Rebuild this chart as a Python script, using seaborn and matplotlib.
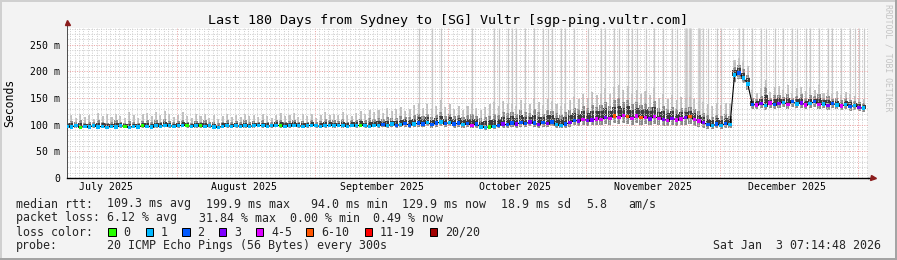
import numpy as np
import pandas as pd
import matplotlib
matplotlib.use("Agg")
import matplotlib.pyplot as plt
import matplotlib.dates as mdates
from matplotlib.ticker import MultipleLocator, FixedLocator, FixedFormatter, NullFormatter
from matplotlib.transforms import blended_transform_factory
from matplotlib.patches import Rectangle
from matplotlib.lines import Line2D
import seaborn as sns

# ---------------- data ----------------
TITLE = "Last 180 Days from Sydney to [SG] Vultr [sgp-ping.vultr.com]"
START = "2025-07-07 07:14:48"
END = "2026-01-03 07:14:48"

# daily median RTT (ms)
median_ms = [
    97, 96, 98, 95, 97, 96, 98, 96, 97, 95,
    97, 96, 98, 97, 95, 97, 96, 98, 97, 96,
    98, 97, 99, 98, 97, 98, 99, 98, 97, 98,
    98, 97, 98, 96, 95, 97, 98, 97, 98, 97,
    98, 97, 98, 99, 98, 97, 98, 99, 98, 97,
    98, 99, 98, 97, 98, 99, 98, 97, 98, 99,
    98, 99, 98, 97, 99, 98, 99, 98, 97, 99,
    99, 100, 98, 101, 99, 100, 102, 99, 101, 103,
    101, 104, 100, 103, 105, 102, 104, 101, 103, 100,
    102, 99, 101, 96, 95, 96, 97, 99, 101, 100,
    103, 101, 104, 102, 105, 103, 100, 104, 102, 105,
    100, 99, 101, 104, 108, 107, 110, 108, 109, 111,
    110, 113, 112, 116, 114, 117, 115, 112, 116, 113,
    114, 111, 115, 112, 110, 108, 112, 109, 111, 113,
    115, 110, 107, 104, 100, 98, 101, 99, 102, 100,
    193, 197, 188, 176, 138, 137, 140, 136, 141, 138,
    140, 142, 138, 143, 139, 141, 137, 140, 143, 138,
    139, 136, 140, 137, 135, 138, 134, 136, 132, 131,
]

# daily loss bucket (0 = "0", 1 = "1", 2 = "2", 3 = "3", 4 = "4-5", 5 = "6-10", 6 = "11-19", 7 = "20/20")
loss_level = [
    1, 1, 1, 0, 1, 1, 1, 1, 1, 1,
    1, 1, 1, 0, 1, 1, 1, 0, 1, 1,
    1, 1, 1, 1, 1, 1, 1, 0, 1, 1,
    0, 1, 1, 1, 1, 1, 1, 1, 1, 1,
    1, 1, 1, 1, 1, 1, 1, 1, 0, 1,
    1, 1, 1, 1, 1, 1, 1, 1, 1, 1,
    1, 1, 1, 1, 1, 1, 0, 1, 1, 1,
    1, 2, 1, 1, 2, 1, 2, 2, 1, 2,
    2, 1, 2, 2, 1, 2, 1, 2, 2, 1,
    2, 4, 2, 1, 1, 0, 1, 2, 3, 2,
    2, 3, 2, 2, 3, 2, 3, 2, 3, 2,
    1, 1, 2, 3, 2, 3, 4, 3, 3, 4,
    4, 3, 4, 5, 4, 4, 5, 4, 4, 5,
    4, 3, 4, 4, 3, 4, 3, 4, 4, 3,
    5, 4, 4, 3, 2, 1, 2, 1, 2, 1,
    1, 2, 1, 1, 2, 4, 3, 1, 4, 2,
    3, 1, 4, 2, 1, 3, 4, 1, 2, 4,
    1, 3, 2, 1, 4, 1, 2, 1, 3, 1,
]

# smoke: lowest ping, 75th percentile, highest ping (ms)
smoke_min = [
    93, 92, 94, 91, 93, 92, 94, 92, 93, 91,
    93, 92, 94, 93, 91, 93, 92, 94, 93, 92,
    94, 93, 95, 94, 93, 94, 95, 94, 93, 94,
    94, 93, 94, 92, 91, 93, 94, 93, 94, 93,
    94, 93, 94, 95, 94, 93, 94, 95, 94, 93,
    94, 95, 94, 93, 94, 95, 94, 93, 94, 95,
    94, 95, 94, 93, 95, 94, 95, 94, 93, 95,
    94, 95, 93, 95, 94, 95, 96, 94, 95, 96,
    95, 97, 94, 96, 97, 95, 97, 94, 96, 94,
    95, 93, 94, 91, 90, 91, 92, 93, 94, 94,
    96, 94, 96, 95, 97, 95, 93, 96, 95, 97,
    94, 93, 94, 96, 99, 98, 100, 98, 99, 100,
    99, 101, 100, 103, 101, 104, 102, 100, 103, 100,
    101, 99, 102, 100, 98, 97, 100, 97, 99, 100,
    101, 98, 96, 94, 92, 91, 93, 92, 94, 93,
    180, 186, 178, 166, 130, 129, 131, 128, 132, 130,
    131, 133, 130, 134, 131, 132, 129, 131, 134, 130,
    131, 128, 131, 129, 127, 130, 126, 128, 125, 124,
]
smoke_p75 = [
    104, 107, 105, 108, 104, 106, 105, 108, 106, 104,
    105, 108, 106, 104, 107, 105, 104, 107, 108, 105,
    108, 106, 110, 107, 105, 107, 109, 106, 104, 107,
    106, 108, 105, 106, 103, 106, 108, 105, 107, 105,
    108, 105, 107, 106, 108, 106, 105, 108, 109, 106,
    107, 109, 106, 107, 106, 109, 105, 107, 110, 108,
    108, 107, 110, 106, 108, 109, 111, 108, 112, 110,
    112, 110, 114, 112, 113, 116, 115, 114, 118, 121,
    116, 120, 114, 118, 124, 117, 121, 116, 119, 115,
    118, 120, 116, 112, 114, 117, 120, 119, 124, 122,
    124, 121, 127, 123, 122, 129, 124, 121, 128, 126,
    122, 118, 123, 127, 131, 129, 135, 131, 137, 134,
    137, 143, 136, 146, 150, 142, 147, 138, 143, 137,
    140, 134, 144, 132, 136, 130, 134, 129, 132, 131,
    134, 129, 126, 122, 118, 115, 119, 116, 120, 117,
    208, 212, 204, 194, 150, 148, 154, 170, 151, 155,
    156, 152, 158, 150, 153, 157, 150, 155, 153, 158,
    150, 153, 149, 151, 146, 150, 147, 145, 142, 140,
]
smoke_max = [
    110, 118, 112, 121, 115, 119, 110, 122, 116, 120,
    114, 121, 117, 112, 123, 118, 113, 120, 122, 116,
    124, 118, 126, 121, 115, 119, 123, 117, 112, 120,
    116, 121, 113, 118, 111, 117, 120, 114, 119, 115,
    121, 116, 119, 114, 120, 117, 113, 119, 122, 116,
    118, 122, 115, 120, 117, 121, 113, 119, 123, 118,
    121, 118, 124, 119, 116, 122, 126, 120, 128, 123,
    127, 122, 131, 125, 129, 134, 126, 130, 137, 140,
    132, 138, 129, 135, 146, 133, 139, 130, 136, 128,
    135, 140, 131, 128, 134, 138, 142, 136, 145, 139,
    141, 136, 147, 140, 138, 150, 143, 137, 148, 145,
    139, 135, 141, 146, 152, 148, 158, 150, 162, 155,
    160, 168, 158, 170, 175, 165, 172, 160, 166, 158,
    163, 155, 168, 150, 158, 148, 155, 147, 152, 150,
    154, 148, 145, 142, 138, 136, 140, 137, 141, 138,
    222, 225, 218, 210, 165, 160, 168, 184, 162, 170,
    172, 165, 175, 160, 168, 171, 163, 170, 165, 174,
    160, 166, 158, 163, 155, 161, 157, 154, 150, 148,
]
# days with a ping reaching the top of the graph
tall_spike_days = [79, 82, 84, 91, 96, 97, 99, 100, 101, 103, 105, 107, 108, 109,
                   111, 112, 114, 117, 120, 121, 123, 124, 126, 127, 128, 130, 132,
                   134, 136, 137, 139, 140, 142, 143, 144, 146, 147, 151, 152, 154,
                   156, 157, 159, 161, 163, 164, 166, 167, 169, 171, 172, 174, 176,
                   177, 178, 179]
wide_spike_days = [139, 140, 142]

month_labels = ["July 2025", "August 2025", "September 2025", "October 2025",
                "November 2025", "December 2025"]
month_label_dates = ["2025-07-16", "2025-08-16", "2025-09-16", "2025-10-16",
                     "2025-11-16", "2025-12-16"]
ytick_values = [0, 50, 100, 150, 200, 250]
ytick_labels = ["0", "50 m", "100 m", "150 m", "200 m", "250 m"]
Y_MAX = 282

loss_labels = ["0", "1", "2", "3", "4-5", "6-10", "11-19", "20/20"]
loss_colors = ["#26ff00", "#00b8ff", "#0059ff", "#7e00ff", "#dd00ff",
               "#ff5500", "#ff0000", "#a10000"]

stats_line1 = [("median rtt:", 16), ("109.3 ms avg", 107.3), ("199.9 ms max", 205.5),
               ("94.0 ms min", 310.8), ("129.9 ms now", 402.1), ("18.9 ms sd", 500.5),
               ("5.8", 586.0), ("am/s", 628.3)]
stats_line2 = [("packet loss:", 16), ("6.12 % avg", 107.3), ("31.84 % max", 198.5),
               ("0.00 % min", 290.0), ("0.49 % now", 372.5)]
probe_text = "20 ICMP Echo Pings (56 Bytes) every 300s"
date_text = "Sat Jan  3 07:14:48 2026"
watermark = "RRDTOOL / TOBI OETIKER"

# ---------------- figure ----------------
W, H = 897, 260
sns.set_theme(style="white")
plt.rcParams["font.family"] = ["DejaVu Sans Mono"]

def fx(px):
    return px / W

def fy(py):
    return 1 - py / H

fig = plt.figure(figsize=(W / 100, H / 100), dpi=100, facecolor="#f3f3f3")
ax_l, ax_r, ax_t, ax_b = 67, 868, 27.7, 178
ax = fig.add_axes([fx(ax_l), fy(ax_b), (ax_r - ax_l) / W, (ax_b - ax_t) / H])
ax.set_facecolor("white")

start = pd.Timestamp(START)
end = pd.Timestamp(END)
n = len(median_ms)
df = pd.DataFrame({
    "t": start + pd.to_timedelta(np.arange(n), unit="D"),
    "median": median_ms,
    "loss": loss_level,
    "smin": smoke_min,
    "p75": smoke_p75,
    "smax": smoke_max,
})
df["xn"] = mdates.date2num(df["t"])

# tall light spikes
tall = df.iloc[tall_spike_days]
ax.vlines(tall["xn"], tall["median"], Y_MAX, color="#c8c8c8", lw=0.9, zorder=0.8)
wide = df.iloc[wide_spike_days]
ax.vlines(wide["xn"], wide["median"], Y_MAX, color="#d6d6d6", lw=2.4, zorder=0.7)

# smoke layers
ax.bar(df["xn"], df["smax"] - df["smin"], bottom=df["smin"], width=0.45,
       color="#c0c0c0", linewidth=0, zorder=1.0)
ax.bar(df["xn"], df["p75"] - df["smin"], bottom=df["smin"], width=0.7,
       color="#8c8c8c", linewidth=0, zorder=1.05)
core_top = df["median"] + (df["p75"] - df["median"]) * 0.6
ax.bar(df["xn"], core_top - (df["median"] - 2), bottom=df["median"] - 2, width=0.9,
       color="#3c3c3c", linewidth=0, zorder=1.1)

# median line and loss colours
sns.lineplot(data=df, x="xn", y="median", color="black", lw=0.8, ax=ax,
             zorder=2, sort=False)
pal = {i: c for i, c in enumerate(loss_colors)}
sns.scatterplot(data=df, x="xn", y="median", hue="loss", palette=pal, marker="s",
                s=6, linewidth=0, legend=False, ax=ax, zorder=3)

# axes, grid
ax.set_xlim(mdates.date2num(start), mdates.date2num(end))
ax.set_ylim(0, Y_MAX)
ax.set_xlabel("")
ax.set_ylabel("")
ax.xaxis.set_major_locator(mdates.MonthLocator())
ax.xaxis.set_minor_locator(mdates.DayLocator())
ax.xaxis.set_major_formatter(NullFormatter())
ax.xaxis.set_minor_formatter(NullFormatter())
ax.yaxis.set_major_locator(FixedLocator(ytick_values))
ax.yaxis.set_major_formatter(FixedFormatter(ytick_labels))
ax.yaxis.set_minor_locator(MultipleLocator(10))
ax.set_axisbelow("line")
ax.grid(which="minor", color="#cfcfcf", linestyle=(0, (1, 1.4)), lw=0.72)
ax.grid(which="major", color="#eba3a3", linestyle=(0, (1, 1.4)), lw=0.72)

for s in ("top", "right"):
    ax.spines[s].set_visible(False)
ax.spines["left"].set_color("#505050")
ax.spines["left"].set_linewidth(0.72)
ax.spines["bottom"].set_color("black")
ax.spines["bottom"].set_linewidth(1.0)

ax.tick_params(axis="y", which="major", direction="out", length=3, width=0.6,
               color="#505050", labelsize=7.1, pad=2, labelcolor="black")
ax.tick_params(axis="y", which="minor", direction="out", length=1.5, width=0.5,
               color="#808080")
ax.tick_params(axis="x", which="major", direction="out", length=2.5, width=0.6,
               color="#505050")
ax.tick_params(axis="x", which="minor", direction="out", length=1.2, width=0.5,
               color="#909090")

# month labels
btr = blended_transform_factory(ax.transData, ax.transAxes)
lab_y = -(190.5 - ax_b) / (ax_b - ax_t)
for lab, d in zip(month_labels, month_label_dates):
    ax.text(mdates.date2num(pd.Timestamp(d)), lab_y, lab, transform=btr,
            ha="center", va="baseline", fontsize=7.1, color="black")

# axis arrows
ax.add_line(Line2D([0, 0], [1, 1 + 4.5 / (ax_b - ax_t)], transform=ax.transAxes,
                   color="#505050", lw=0.72, clip_on=False))
ax.plot([0], [1 + 6.0 / (ax_b - ax_t)], marker="^", markersize=3.6, color="#8b1c1c",
        transform=ax.transAxes, clip_on=False, zorder=5)
ax.add_line(Line2D([1, 1 + 3.0 / (ax_r - ax_l)], [0, 0], transform=ax.transAxes,
                   color="black", lw=1.0, clip_on=False))
ax.plot([1 + 4.5 / (ax_r - ax_l)], [0], marker=">", markersize=3.6, color="#8b1c1c",
        transform=ax.transAxes, clip_on=False, zorder=5)

# title and labels
fig.text(fx(448), fy(24), TITLE, ha="center", va="baseline", fontsize=9.6, color="black")
fig.text(fx(10), fy(102.5), "Seconds", ha="center", va="center", rotation=90,
         fontsize=8.3, color="black")
fig.text(fx(888), fy(4), watermark, ha="center", va="top", rotation=270,
         fontsize=5.85, color="#c4c4c4")

# legend / stats lines
LEG_FS = 8.4
base = [207.5, 221.5, 235.5, 249.3]
for txt, x in stats_line1:
    fig.text(fx(x), fy(base[0]), txt, ha="left", va="baseline", fontsize=LEG_FS)
for txt, x in stats_line2:
    fig.text(fx(x), fy(base[1]), txt, ha="left", va="baseline", fontsize=LEG_FS)
fig.text(fx(16), fy(base[2]), "loss color:", ha="left", va="baseline", fontsize=LEG_FS)
box_x = [108.3, 145.7, 182.3, 219.0, 256.0, 306.0, 365.0, 430.0]
for bx, lab, col in zip(box_x, loss_labels, loss_colors):
    fig.patches.append(Rectangle((fx(bx), fy(235.7)), 7.4 / W, 7.4 / H,
                                 transform=fig.transFigure, facecolor=col,
                                 edgecolor="black", lw=0.72))
    fig.text(fx(bx + 15), fy(base[2]), lab, ha="left", va="baseline", fontsize=LEG_FS)
fig.text(fx(16), fy(base[3]), "probe:", ha="left", va="baseline", fontsize=LEG_FS)
fig.text(fx(107.3), fy(base[3]), probe_text, ha="left", va="baseline", fontsize=LEG_FS)
fig.text(fx(881), fy(base[3]), date_text, ha="right", va="baseline", fontsize=LEG_FS)

# outer frame
fig.add_artist(Line2D([0, 1], [fy(1), fy(1)], transform=fig.transFigure, color="#d0d0d0", lw=1.44))
fig.add_artist(Line2D([fx(1), fx(1)], [0, 1], transform=fig.transFigure, color="#d0d0d0", lw=1.44))
fig.add_artist(Line2D([0, 1], [fy(259), fy(259)], transform=fig.transFigure, color="#a4a4a4", lw=1.44))
fig.add_artist(Line2D([fx(896), fx(896)], [0, 1], transform=fig.transFigure, color="#a4a4a4", lw=1.44))

fig.savefig("out.png", dpi=100, facecolor=fig.get_facecolor())
